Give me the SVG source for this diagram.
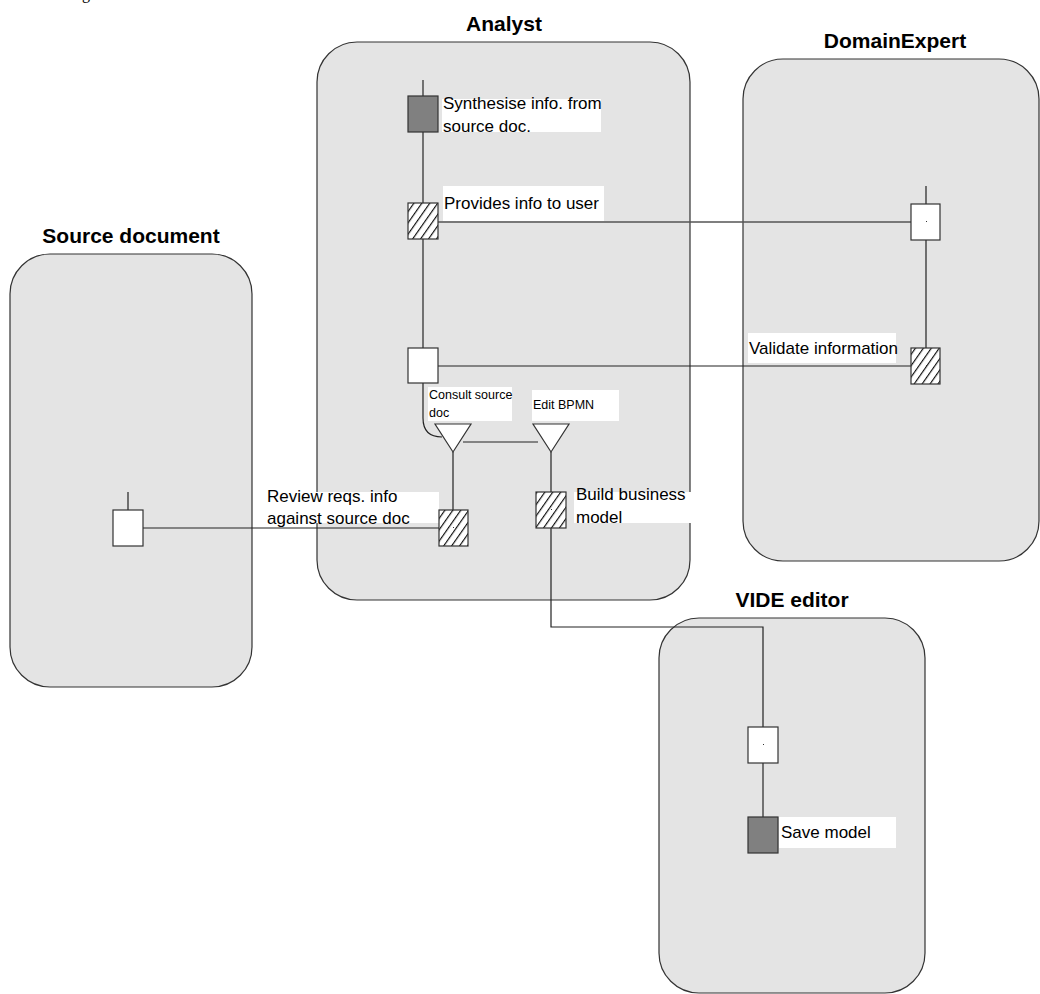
<svg xmlns="http://www.w3.org/2000/svg" width="1040" height="994" viewBox="0 0 1040 994">
  <style>
    .lane { fill: #e4e4e4; stroke: #333; stroke-width: 1.2; }
    .title { font-family: "Liberation Sans", Arial, sans-serif; font-weight: bold; font-size: 21px; fill: #000; text-anchor: middle; }
    .lbl { font-family: "Liberation Sans", Arial, sans-serif; font-size: 17px; fill: #000; }
    .sm { font-family: "Liberation Sans", Arial, sans-serif; font-size: 12.5px; fill: #000; }
    .bg { fill: #fff; }
    .box { fill: #fff; stroke: #333; stroke-width: 1.2; }
    .dark { fill: #808080; stroke: #333; stroke-width: 1.2; }
    .hat { fill: url(#hatch); stroke: #333; stroke-width: 1.2; }
    .tri { fill: #fff; stroke: #333; stroke-width: 1.2; }
    .dot { fill: #333; }
    .wire { fill: none; stroke: #222; stroke-width: 1.2; }
    .wire2 { fill: none; stroke: #555; stroke-width: 1.6; }
  </style>
  <defs>
    <pattern id="hatch" patternUnits="userSpaceOnUse" width="6.5" height="6.5" patternTransform="rotate(35)">
      <rect width="6.5" height="6.5" fill="#fff"/>
      <line x1="0.6" y1="-1" x2="0.6" y2="7.5" stroke="#000" stroke-width="1.1"/>
    </pattern>
  </defs>

  <!-- stray glyph at the page edge -->
  <text x="82" y="-1" font-family="Liberation Serif, serif" font-size="16">g</text>

  <!-- swim lanes -->
  <g id="lane-source">
    <rect class="lane" x="10" y="254" width="242" height="433" rx="40"/>
    <text class="title" x="131" y="243">Source document</text>
  </g>
  <g id="lane-analyst">
    <rect class="lane" x="317" y="42" width="373" height="558" rx="40"/>
    <text class="title" x="504" y="31">Analyst</text>
  </g>
  <g id="lane-domainexpert">
    <rect class="lane" x="743" y="59" width="296" height="502" rx="40"/>
    <text class="title" x="895" y="48">DomainExpert</text>
  </g>
  <g id="lane-vide">
    <rect class="lane" x="659" y="618" width="266" height="375" rx="40"/>
    <text class="title" x="792" y="607">VIDE editor</text>
  </g>

  <!-- connectors -->
  <g id="connectors">
    <path class="wire2" d="M423,80 V96 M423,132 V203 M423,239 V348"/>
    <path class="wire2" d="M438,222 H911"/>
    <path class="wire" d="M438,366 H911"/>
    <path class="wire" d="M926,186 V204 M926,240 V348"/>
    <path class="wire" d="M423,383 V418 Q423,437 442,437"/>
    <path class="wire" d="M463,442 H538"/>
    <path class="wire" d="M453,452 V510"/>
    <path class="wire" d="M551,452 V492"/>
    <path class="wire" d="M143,528 H439"/>
    <path class="wire" d="M128,492 V510"/>
    <path class="wire" d="M551,528 V627 H763 V727"/>
    <path class="wire2" d="M763,763 V817"/>
  </g>

  <!-- Analyst activities -->
  <g id="synthesise">
    <rect class="dark" x="408" y="96" width="30" height="36"/>
    <rect class="bg" x="442" y="99" width="159" height="33"/>
    <text class="lbl" x="443" y="109">Synthesise info. from</text>
    <text class="lbl" x="443" y="132">source doc.</text>
  </g>
  <g id="provides">
    <rect class="hat" x="408" y="203" width="30" height="36"/>
    <rect class="bg" x="443" y="186" width="161" height="35"/>
    <text class="lbl" x="444" y="209">Provides info to user</text>
  </g>
  <g id="analyst-step">
    <rect class="box" x="408" y="348" width="30" height="35"/>
  </g>
  <g id="consult">
    <rect class="bg" x="428" y="387" width="84" height="34"/>
    <text class="sm" x="429" y="399">Consult source</text>
    <text class="sm" x="429" y="417">doc</text>
    <polygon class="tri" points="435,424 471,424 453,452"/>
  </g>
  <g id="edit-bpmn">
    <rect class="bg" x="532" y="390" width="87" height="31"/>
    <text class="sm" x="533" y="409">Edit BPMN</text>
    <polygon class="tri" points="533,424 569,424 551,452"/>
  </g>
  <g id="review">
    <rect class="bg" x="262" y="492" width="177" height="31"/>
    <text class="lbl" x="267" y="502">Review reqs. info</text>
    <text class="lbl" x="267" y="524">against source doc</text>
    <rect class="hat" x="439" y="510" width="29" height="36"/>
    <rect class="dot" x="453" y="527" width="1" height="1"/>
  </g>
  <g id="build">
    <rect class="hat" x="536" y="492" width="30" height="36"/>
    <rect class="dot" x="551" y="509" width="1" height="1"/>
    <rect class="bg" x="574" y="492" width="132" height="31"/>
    <text class="lbl" x="576" y="500">Build business</text>
    <text class="lbl" x="576" y="523">model</text>
  </g>

  <!-- Source document activity -->
  <g id="source-step">
    <rect class="box" x="113" y="510" width="30" height="36"/>
  </g>

  <!-- DomainExpert activities -->
  <g id="domain-step">
    <rect class="box" x="911" y="204" width="29" height="36"/>
    <rect class="dot" x="926" y="221" width="1" height="1"/>
  </g>
  <g id="validate">
    <rect class="bg" x="748" y="333" width="148" height="30"/>
    <text class="lbl" x="749" y="354">Validate information</text>
    <rect class="hat" x="911" y="348" width="29" height="36"/>
    <rect class="dot" x="926" y="365" width="1" height="1"/>
  </g>

  <!-- VIDE editor activities -->
  <g id="vide-step">
    <rect class="box" x="748" y="727" width="30" height="36"/>
    <rect class="dot" x="763" y="744" width="1" height="1"/>
  </g>
  <g id="save">
    <rect class="dark" x="748" y="817" width="30" height="36"/>
    <rect class="bg" x="779" y="817" width="117" height="31"/>
    <text class="lbl" x="781" y="838">Save model</text>
  </g>
</svg>
